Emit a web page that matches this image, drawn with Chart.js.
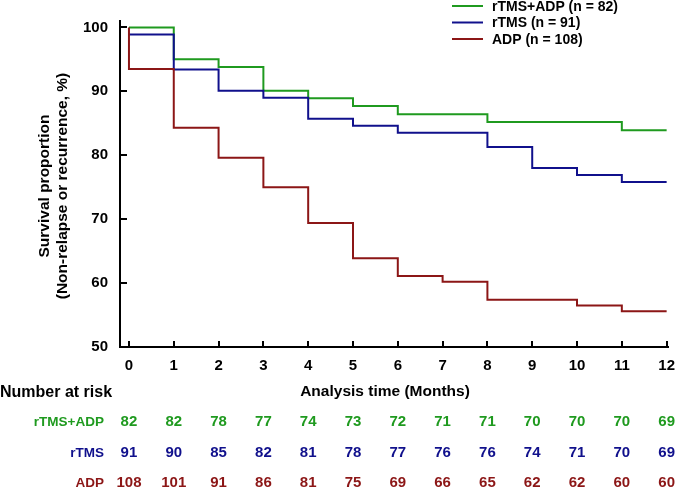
<!DOCTYPE html>
<html>
<head>
<meta charset="utf-8">
<script src="https://cdn.jsdelivr.net/npm/chart.js@4.4.0/dist/chart.umd.min.js"></script>
<style>
  html, body { margin: 0; padding: 0; background: #fff; }
  canvas { display: block; }
</style>
</head>
<body>
<canvas id="km" width="685" height="489"></canvas>
<script>
// --- Data ---
const months = [0, 1, 2, 3, 4, 5, 6, 7, 8, 9, 10, 11, 12];
const yTicks = [50, 60, 70, 80, 90, 100];

const groupNames = ['rTMS+ADP', 'rTMS', 'ADP'];
const legendLabels = ['rTMS+ADP (n = 82)', 'rTMS (n = 91)', 'ADP (n = 108)'];
const groupColors = ['#1f9a1f', '#10108c', '#8c1616'];

// step change points (time, survival %)
const comboTimes = [0, 1, 2, 3, 4, 5, 6, 8, 11, 12];
const comboSurv  = [100, 95.0, 93.8, 90.1, 88.9, 87.7, 86.4, 85.2, 83.9, 83.9];
const rtmsTimes  = [0, 1, 2, 3, 4, 5, 6, 8, 9, 10, 11, 12];
const rtmsSurv   = [98.9, 93.4, 90.1, 89.0, 85.7, 84.6, 83.5, 81.3, 78.0, 76.9, 75.8, 75.8];
const adpTimes   = [0, 0, 1, 2, 3, 4, 5, 6, 7, 8, 10, 11, 12];
const adpSurv    = [100, 93.5, 84.3, 79.6, 75.0, 69.4, 63.9, 61.1, 60.2, 57.4, 56.5, 55.6, 55.6];

// number at risk per month
const comboRisk = [82, 82, 78, 77, 74, 73, 72, 71, 71, 70, 70, 70, 69];
const rtmsRisk  = [91, 90, 85, 82, 81, 78, 77, 76, 76, 74, 71, 70, 69];
const adpRisk   = [108, 101, 91, 86, 81, 75, 69, 66, 65, 62, 62, 60, 60];

const FONT = '"Liberation Sans", Arial, sans-serif';
const toPoints = (ts, ss) => ts.map((t, i) => ({ x: t, y: ss[i] }));
const curves = [toPoints(comboTimes, comboSurv), toPoints(rtmsTimes, rtmsSurv), toPoints(adpTimes, adpSurv)];
const riskRows = [comboRisk, rtmsRisk, adpRisk];

// inward ticks, legend, axis titles and the risk table
const decorations = {
  id: 'decorations',
  afterDraw(chart) {
    const ctx = chart.ctx;
    const xs = chart.scales.x, ys = chart.scales.y;
    const area = chart.chartArea;
    ctx.save();

    // ticks pointing into the plot
    ctx.strokeStyle = '#000';
    ctx.lineWidth = 2;
    months.forEach(m => {
      const px = Math.round(xs.getPixelForValue(m));
      ctx.beginPath();
      ctx.moveTo(px, area.bottom);
      ctx.lineTo(px, area.bottom - 6);
      ctx.stroke();
    });
    yTicks.forEach(v => {
      const py = Math.round(ys.getPixelForValue(v));
      ctx.beginPath();
      ctx.moveTo(area.left - 1, py);
      ctx.lineTo(area.left + 7, py);
      ctx.stroke();
    });

    // legend
    ctx.font = 'bold 14px ' + FONT;
    ctx.textBaseline = 'middle';
    ctx.textAlign = 'left';
    legendLabels.forEach((lab, i) => {
      const y = 6 + i * 16.5;
      ctx.strokeStyle = groupColors[i];
      ctx.lineWidth = 2;
      ctx.beginPath();
      ctx.moveTo(452, y);
      ctx.lineTo(483, y);
      ctx.stroke();
      ctx.fillStyle = '#000';
      ctx.fillText(lab, 492, y + 1);
    });

    // y title (two lines, rotated)
    ctx.save();
    ctx.translate(54, 186);
    ctx.rotate(-Math.PI / 2);
    ctx.textAlign = 'center';
    ctx.fillStyle = '#000';
    ctx.font = 'bold 15.5px ' + FONT;
    ctx.fillText('Survival proportion', 0, -9);
    ctx.fillText('(Non-relapse or recurrence, %)', 0, 9);
    ctx.restore();

    // x title and risk table
    ctx.fillStyle = '#000';
    ctx.textAlign = 'center';
    ctx.font = 'bold 15.5px ' + FONT;
    ctx.fillText('Analysis time (Months)', 385, 392);
    ctx.textAlign = 'left';
    ctx.font = 'bold 16px ' + FONT;
    ctx.fillText('Number at risk', 0, 393);

    const rowY = [422, 453, 483];
    riskRows.forEach((row, r) => {
      ctx.fillStyle = groupColors[r];
      ctx.textAlign = 'right';
      ctx.font = 'bold 13.5px ' + FONT;
      ctx.fillText(groupNames[r], 104, rowY[r]);
      ctx.textAlign = 'center';
      ctx.font = 'bold 15px ' + FONT;
      row.forEach((n, i) => {
        ctx.fillText(String(n), xs.getPixelForValue(months[i]), rowY[r]);
      });
    });
    ctx.restore();
  }
};

new Chart(document.getElementById('km').getContext('2d'), {
  type: 'line',
  data: {
    datasets: curves.map((pts, i) => ({
      label: legendLabels[i],
      data: pts,
      borderColor: groupColors[i],
      borderWidth: 2,
      pointRadius: 0,
      fill: false,
      stepped: true,
      order: 3 - i
    }))
  },
  options: {
    responsive: false,
    animation: false,
    devicePixelRatio: 1,
    layout: { padding: { top: 17, right: 7, left: 0, bottom: 0 } },
    plugins: {
      legend: { display: false },
      tooltip: { enabled: false },
      title: { display: false }
    },
    scales: {
      x: {
        type: 'linear',
        min: -0.2,
        max: 12.04,
        afterBuildTicks: s => { s.ticks = months.map(v => ({ value: v })); },
        afterFit: s => { s.height = 142; },
        border: { display: true, color: '#000', width: 2 },
        grid: { display: true, drawOnChartArea: false, drawTicks: false },
        ticks: {
          padding: 10,
          color: '#000',
          font: { family: FONT, size: 15, weight: 'bold' },
          maxRotation: 0,
          autoSkip: false
        }
      },
      y: {
        min: 50,
        max: 101,
        afterBuildTicks: s => { s.ticks = yTicks.map(v => ({ value: v })); },
        afterFit: s => { s.width = 120; },
        border: { display: true, color: '#000', width: 2 },
        grid: { display: true, drawOnChartArea: false, drawTicks: false },
        ticks: {
          padding: 12,
          color: '#000',
          font: { family: FONT, size: 15, weight: 'bold' }
        }
      }
    }
  },
  plugins: [decorations]
});
</script>
</body>
</html>
